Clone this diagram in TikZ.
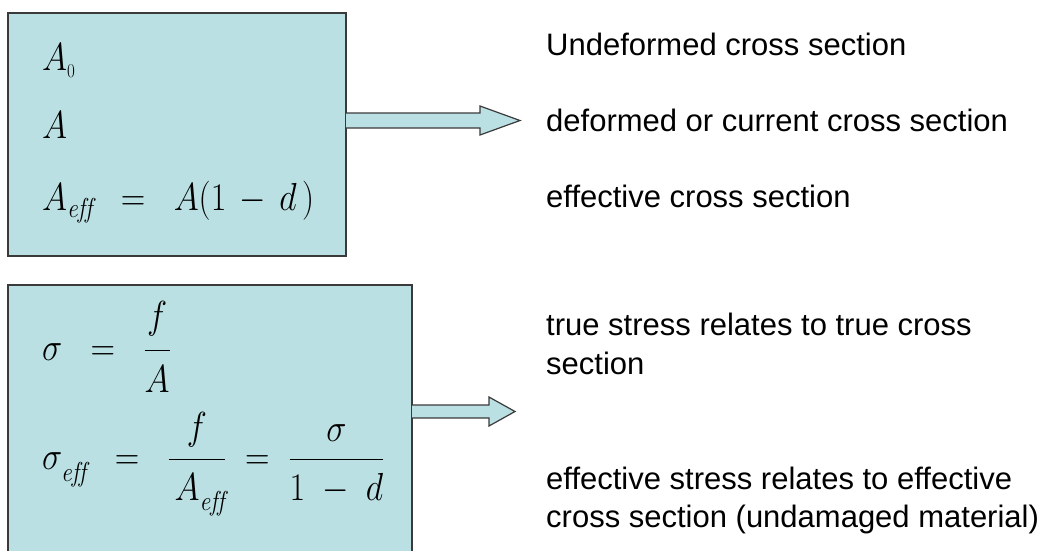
\RequirePackage{fix-cm}
\documentclass[tikz,border=0pt]{standalone}
\usepackage{fontspec}
\usetikzlibrary{calc}
\newfontfamily\arial{Liberation Sans}
\definecolor{boxfill}{HTML}{BBE0E3}
\definecolor{boxline}{HTML}{3A3A3A}
\newcommand{\shiftpart}[2]{\raisebox{#1}{$\displaystyle #2$}}
\newcommand{\effsub}[1]{_{\lower#1\hbox{$\scriptstyle\mathit{eff}$}}}
\newcommand{\tallmath}[1]{\scalebox{1}[1.15]{$\displaystyle #1$}}
\tikzset{
  panel/.style={draw=boxline, fill=boxfill, line width=1.5pt},
  blockarrow/.style={draw=boxline, fill=boxfill, line width=1.2pt, line join=miter},
  mathlbl/.style={anchor=base west, inner sep=0pt, font=\fontsize{34}{40}\selectfont},
  desc/.style={anchor=base west, inner sep=0pt, font=\arial\fontsize{31}{37}\selectfont},
}
\begin{document}
\begin{tikzpicture}[x=1pt,y=-1pt]
\useasboundingbox (0,0) rectangle (1047,550);
% boxes
\draw[panel] (8,13) rectangle (346,256);
\coordinate (b1ne) at (346,13);
\draw[panel] (8,285) rectangle (412,556);
\coordinate (b2ne) at (412,285);
% block arrows
\draw[blockarrow] ($(b1ne)+(0,100)$) coordinate (a1s) -- ++(134,0) -- ++(0,-7) -- ++(40,14.5) -- ++(-40,14.5) -- ++(0,-7) -- ++(-134,0);
\draw[blockarrow] ($(b2ne)+(0,120)$) coordinate (a2s) -- ++(77,0) -- ++(0,-8) -- ++(26,14.5) -- ++(-26,14.5) -- ++(0,-8) -- ++(-77,0);
% box 1 math
\node[mathlbl] (m1) at (42,70) {\tallmath{A_{\lower1pt\hbox{$\scriptscriptstyle 0$}}}};
\node[mathlbl] (m2) at (42,138) {\tallmath{A}};
\node[mathlbl] (m3) at (42,210) {\tallmath{A\effsub{1pt}\;\;=\;\;A(1\,-\,d\,)}};
% box 2 math
\node[mathlbl] (m4) at (42,360) {\tallmath{\sigma\;\;=\;\;\frac{\shiftpart{4pt}{f}}{\shiftpart{-4.5pt}{A}}}};
\node[mathlbl] (m5) at (42,469) {\tallmath{\sigma\effsub{6pt}\;\;=\;\;\frac{\shiftpart{3pt}{f}}{\shiftpart{-3.7pt}{\,A\effsub{3.7pt}}}\;=\;\frac{\shiftpart{0.5pt}{\sigma}}{\shiftpart{-3.7pt}{1\;-\;d}}}};
% descriptions
\node[desc] (t1) at (546,55) {Undeformed cross section};
\node[desc] (t2) at (546,131) {deformed or current cross section};
\node[desc] (t3) at (546,207) {effective cross section};
\node[desc] (t4) at (546,335) {true stress relates to true cross};
\node[desc] (t5) at (546,374) {section};
\node[desc] (t6) at (546,489) {effective stress relates to effective};
\node[desc] (t7) at (546,527) {cross section (undamaged material)};
\end{tikzpicture}
\end{document}
